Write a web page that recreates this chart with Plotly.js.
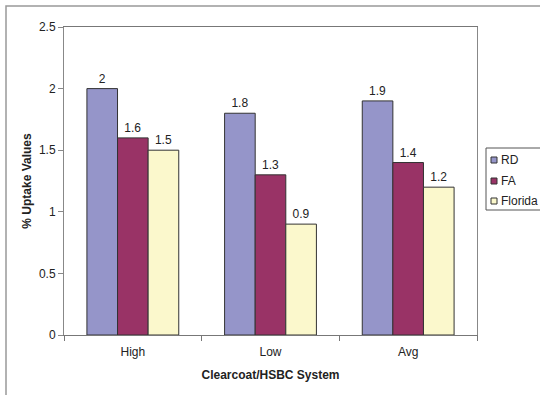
<!DOCTYPE html>
<html>
<head>
<meta charset="utf-8">
<script src="https://cdn.plot.ly/plotly-3.0.1.min.js"></script>
<style>
  html, body { margin: 0; padding: 0; background: #fff; }
  #chart { width: 540px; height: 395px; }
</style>
</head>
<body>
<div id="chart"></div>
<script>
// Uptake values per clearcoat/HSBC system
const categories = ["High", "Low", "Avg"];
const rdValues = [2, 1.8, 1.9];
const faValues = [1.6, 1.3, 1.4];
const floridaValues = [1.5, 0.9, 1.2];
const seriesNames = ["RD", "FA", "Florida"];
const yTicks = [0, 0.5, 1, 1.5, 2, 2.5];

const colors = ["#9595c9", "#993366", "#fbf8cc"];
const font = "Liberation Sans, Arial, sans-serif";

// Plot-area geometry in pixels (used to place the frame and legend in paper units)
const W = 540, H = 395;
const M = { l: 64, r: 63, t: 27, b: 60 };
const PW = W - M.l - M.r, PH = H - M.t - M.b;
const px = X => (X - M.l) / PW;
const py = Y => (H - M.b - Y) / PH;

function barTrace(name, values, color) {
  return {
    type: "bar",
    name: name,
    x: categories,
    y: values,
    text: values.map(String),
    textposition: "outside",
    textfont: { family: font, size: 12, color: "#222" },
    cliponaxis: false,
    marker: { color: color, line: { color: "#333", width: 1 } },
    showlegend: false
  };
}

const data = [
  barTrace(seriesNames[0], rdValues, colors[0]),
  barTrace(seriesNames[1], faValues, colors[1]),
  barTrace(seriesNames[2], floridaValues, colors[2])
];

// Outer chart frame
const shapes = [
  {
    type: "rect", xref: "paper", yref: "paper",
    x0: px(6), x1: px(600), y0: py(460), y1: py(6),
    line: { color: "#999", width: 1.5 },
    fillcolor: "rgba(0,0,0,0)", layer: "below"
  },
  // legend box
  {
    type: "rect", xref: "paper", yref: "paper",
    x0: px(486), x1: px(600), y0: py(210), y1: py(148),
    line: { color: "#555", width: 1 },
    fillcolor: "#fff", layer: "above"
  }
];
const annotations = [];
const legendRows = [160, 181, 201];
seriesNames.forEach((name, i) => {
  const yc = legendRows[i];
  shapes.push({
    type: "rect", xref: "paper", yref: "paper",
    x0: px(491), x1: px(497), y0: py(yc + 3), y1: py(yc - 3),
    line: { color: "#333", width: 1 },
    fillcolor: colors[i], layer: "above"
  });
  annotations.push({
    xref: "paper", yref: "paper",
    x: px(499), y: py(yc),
    xanchor: "left", yanchor: "middle",
    text: name, showarrow: false,
    font: { family: font, size: 12, color: "#222" }
  });
});

const layout = {
  width: W,
  height: H,
  margin: M,
  paper_bgcolor: "#fff",
  plot_bgcolor: "#fff",
  barmode: "group",
  bargap: 0.333,
  bargroupgap: 0,
  font: { family: font, size: 12, color: "#222" },
  showlegend: false,
  xaxis: {
    type: "category",
    showline: true, linecolor: "#777", linewidth: 1,
    mirror: true,
    ticks: "outside", tickson: "boundaries", ticklen: 5, tickcolor: "#777",
    ticklabelstandoff: 6,
    tickfont: { family: font, size: 12, color: "#222" },
    showgrid: false, zeroline: false,
    title: { text: "<b>Clearcoat/HSBC System</b>", font: { family: font, size: 12, color: "#222" }, standoff: 12 }
  },
  yaxis: {
    range: [0, 2.5],
    tickvals: yTicks,
    ticktext: yTicks.map(String),
    showline: true, linecolor: "#888", linewidth: 1,
    mirror: true,
    ticks: "outside", ticklen: 5, tickcolor: "#888",
    tickfont: { family: font, size: 12, color: "#222" },
    showgrid: false, zeroline: false,
    title: { text: "<b>% Uptake Values</b>", font: { family: font, size: 12, color: "#222" }, standoff: 4 }
  },
  shapes: shapes,
  annotations: annotations
};

Plotly.newPlot("chart", data, layout, { displayModeBar: false, staticPlot: true });
</script>
</body>
</html>
